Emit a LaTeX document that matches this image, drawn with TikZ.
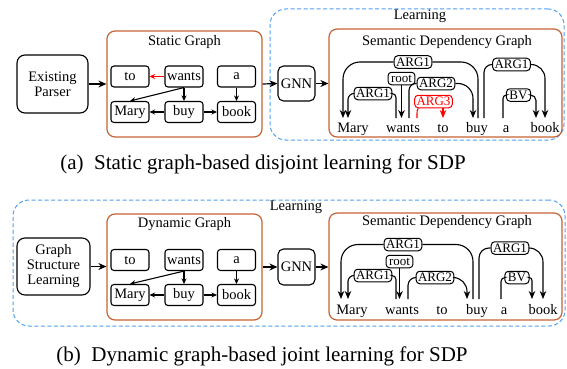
\documentclass[tikz,border=0pt]{standalone}
\usepackage{fontspec}
\setmainfont{Liberation Serif}
\usetikzlibrary{arrows.meta}
\definecolor{frameorange}{RGB}{198,98,52}
\definecolor{learnblue}{RGB}{80,160,240}

\tikzset{
  txt/.style={font=\fontsize{14.5}{17}\selectfont},
  procbox/.style={txt, draw, rounded corners=8pt, line width=1.1pt, align=center, inner sep=0pt},
  graphframe/.style={draw=frameorange, rounded corners=8pt, line width=1.2pt, inner sep=0pt},
  learnframe/.style={draw=learnblue, dash pattern=on 4pt off 2.5pt, rounded corners=16pt, line width=1pt, inner sep=0pt},
  tok/.style={txt, draw, rounded corners=3pt, minimum width=38pt, minimum height=21pt, inner sep=0pt, line width=1.1pt},
  lab/.style={draw, fill=white, rounded corners=3.5pt, font=\fontsize{13}{13}\selectfont, inner xsep=1.8pt, inner ysep=0pt, minimum height=12.5pt, line width=1pt},
  word/.style={txt, anchor=base, inner sep=0pt},
  flow/.style={-{Stealth[length=8pt,width=7pt]}, line width=1.2pt},
  gedge/.style={-{Stealth[length=5.5pt,width=5pt]}, line width=1.1pt},
  arc/.style={line width=1.1pt, rounded corners=#1},
  arcto/.style={arc=#1, -{Stealth[length=8pt,width=6.5pt]}},
  capt/.style={font=\fontsize{21}{24}\selectfont, anchor=base},
}

\begin{document}
\begin{tikzpicture}[x=1pt,y=-1pt]
\useasboundingbox (0,0) rectangle (567,369);

% ---------------- (a) static graph, disjoint learning ----------------
\node[procbox, minimum width=71pt, minimum height=58pt] (ep) at (52.5,84) {Existing\\[-2pt]Parser};
\node[graphframe, minimum width=155pt, minimum height=106pt] (sg) at (184.5,84) {};
\node[txt] (sgt) at (184.5,42) {Static Graph};

\node[tok] (to)    at (130,76.5) {to};
\node[tok] (wants) at (184,76.5) {wants};
\node[tok] (a)     at (236.5,76.5) {a};
\node[tok] (mary)  at (130,112) {Mary};
\node[tok] (buy)   at (184,112) {buy};
\node[tok] (book)  at (236.5,112) {book};

\draw[gedge, red] (wants.west) -- (to.east);
\draw[gedge] (wants.south) -- (mary.north);
\draw[gedge] (wants.south) -- (buy.north);
\draw[gedge] (buy.west) -- (mary.east);
\draw[gedge] (buy.east) -- (book.west);
\draw[gedge] (a.south) -- (book.north);

\node[learnframe, minimum width=294pt, minimum height=131pt] (la) at (417,74.5) {};
\node[txt] (lat) at (420,16) {Learning};
\node[procbox, minimum width=37pt, minimum height=35pt, rounded corners=5.5pt] (gnn) at (296.5,83.5) {GNN};
\node[graphframe, minimum width=233pt, minimum height=108pt] (sdg) at (445.5,83) {};
\node[txt] (sdgt) at (447,42) {Semantic Dependency Graph};

\draw[flow] (ep.east) -- (sg.west);
\draw[flow] (sg.east) -- (gnn.west);
\draw[flow] (gnn.east) -- (sdg.west |- gnn.east);

% sentence
\node[word] (wm) at (353,132) {Mary};
\node[word] (ww) at (403,132) {wants};
\node[word] (wt) at (443,132) {to};
\node[word] (wb) at (477,132) {buy};
\node[word] (wa) at (506,132) {a};
\node[word] (wk) at (545,132) {book};

% arc end points just above the words
\coordinate (mA) at (343,118); \coordinate (mB) at (348,118);
\coordinate (wA) at (396,118); \coordinate (wR) at (401.5,118);
\coordinate (wB) at (409,118); \coordinate (wC) at (417,118);
\coordinate (tA) at (443,118);
\coordinate (bA) at (473,118); \coordinate (bB) at (478,118); \coordinate (bC) at (484,118);
\coordinate (aA) at (503,118);
\coordinate (kA) at (536,118); \coordinate (kB) at (545,118);

\node[lab] (l1) at (413,62) {ARG1};
\node[lab] (l2) at (373,93.5) {ARG1};
\node[lab, inner xsep=3pt] (l3) at (401.5,78.5) {root};
\node[lab] (l4) at (436,83.5) {ARG2};
\node[lab, draw=red, text=red] (l5) at (433.5,101.5) {ARG3};
\node[lab] (l6) at (511.5,64.5) {ARG1};
\node[lab, inner xsep=3pt] (l7) at (518.5,95) {BV};

\draw[arc=17pt] (bB) |- (l1.east);
\draw[arcto=17pt] (l1.west) -| (mA);
\draw[arc=4pt] (wA) |- (l2.east);
\draw[arcto=6pt] (l2.west) -| (mB);
\draw[arcto=0pt] (l3.south) -- (wR);
\draw[arc=7pt] (wB) |- (l4.west);
\draw[arcto=15pt] (l4.east) -| (bA);
\draw[arc=0pt, red] (wC) .. controls (417,110) .. ([xshift=4pt]l5.south west);
\draw[arcto=0pt, red] (l5.south -| tA) -- (tA);
\draw[arc=8pt] (bC) |- (l6.west);
\draw[arcto=14pt] (l6.east) -| (kB);
\draw[arc=3.5pt] (aA) |- (l7.west);
\draw[arcto=5.5pt] (l7.east) -| (kA);

\node[capt] (capa) at (263,169) {(a)\enspace Static graph-based disjoint learning for SDP};

% ---------------- (b) dynamic graph, joint learning ----------------
\node[learnframe, minimum width=552pt, minimum height=126pt] (lb) at (289,263) {};
\node[txt] (lbt) at (296,207) {Learning};
\node[procbox, minimum width=73pt, minimum height=57pt] (gsl) at (53.5,266.5) {Graph\\[-2pt]Structure\\[-2pt]Learning};
\node[graphframe, minimum width=155pt, minimum height=106pt] (dg) at (184.5,267) {};
\node[txt] (dgt) at (184.5,224) {Dynamic Graph};

\node[tok] (to2)    at (130,260) {to};
\node[tok] (wants2) at (184,260) {wants};
\node[tok] (a2)     at (236.5,260) {a};
\node[tok] (mary2)  at (130,295) {Mary};
\node[tok] (buy2)   at (184,295) {buy};
\node[tok] (book2)  at (236.5,295) {book};

\draw[gedge] (wants2.south) -- (mary2.north);
\draw[gedge] (wants2.south) -- (buy2.north);
\draw[gedge] (buy2.west) -- (mary2.east);
\draw[gedge] (buy2.east) -- (book2.west);
\draw[gedge] (a2.south) -- (book2.north);

\node[procbox, minimum width=37pt, minimum height=36pt, rounded corners=5.5pt] (gnn2) at (296.5,267) {GNN};
\node[graphframe, minimum width=233pt, minimum height=107pt] (sdg2) at (445.5,266.5) {};
\node[txt] (sdgt2) at (447,222) {Semantic Dependency Graph};

\draw[flow] (gsl.east) -- (dg.west |- gsl.east);
\draw[flow] (dg.east) -- (gnn2.west |- dg.east);
\draw[flow] (gnn2.east) -- (sdg2.west |- gnn2.east);

\node[word] (wm2) at (352,314) {Mary};
\node[word] (ww2) at (402,314) {wants};
\node[word] (wt2) at (442,314) {to};
\node[word] (wb2) at (477,314) {buy};
\node[word] (wa2) at (504,314) {a};
\node[word] (wk2) at (543,314) {book};

\coordinate (mA2) at (341,299); \coordinate (mB2) at (348,299);
\coordinate (wA2) at (396,299); \coordinate (wR2) at (399.5,299);
\coordinate (wB2) at (408,299);
\coordinate (bA2) at (467,299); \coordinate (bB2) at (473,299); \coordinate (bC2) at (479,299);
\coordinate (aA2) at (501,299);
\coordinate (kA2) at (532,299); \coordinate (kB2) at (543,299);

\node[lab] (m1) at (403,244.5) {ARG1};
\node[lab] (m2) at (373,275.5) {ARG1};
\node[lab, inner xsep=3pt] (m3) at (399.5,261.5) {root};
\node[lab] (m4) at (435,277.5) {ARG2};
\node[lab] (m6) at (510,248) {ARG1};
\node[lab, inner xsep=3pt] (m7) at (517,277.5) {BV};

\draw[arc=17pt] (bB2) |- (m1.east);
\draw[arcto=17pt] (m1.west) -| (mA2);
\draw[arc=4pt] (wA2) |- (m2.east);
\draw[arcto=6pt] (m2.west) -| (mB2);
\draw[arcto=0pt] (m3.south) -- (wR2);
\draw[arc=8pt] (wB2) |- (m4.west);
\draw[arcto=14pt] (m4.east) -| (bA2);
\draw[arc=10pt] (bC2) |- (m6.west);
\draw[arcto=14pt] (m6.east) -| (kB2);
\draw[arc=4pt] (aA2) |- (m7.west);
\draw[arcto=3pt] (m7.east) -| (kA2);

\node[capt] (capb) at (262,361) {(b)\enspace Dynamic graph-based joint learning for SDP};
\end{tikzpicture}
\end{document}
